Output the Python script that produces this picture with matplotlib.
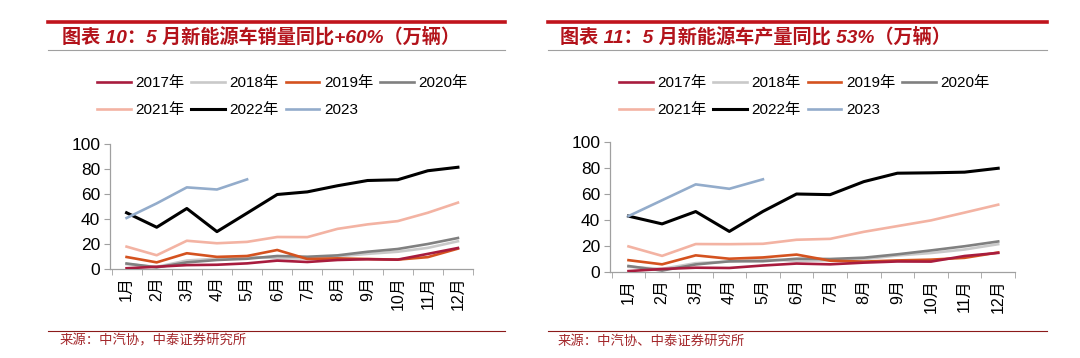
import matplotlib.pyplot as plt
from matplotlib.lines import Line2D

plt.rcParams['font.family'] = ['Liberation Sans', 'Noto Sans CJK SC']

months = ['1月', '2月', '3月', '4月', '5月', '6月', '7月', '8月', '9月', '10月', '11月', '12月']
years = ['2017年', '2018年', '2019年', '2020年', '2021年', '2022年', '2023']
colors = ['#A81C3E', '#C9C9C9', '#D4521F', '#808080', '#F3B3A3', '#000000', '#93ACCB']

# sales (万辆)
sales_2017 = [0.6, 1.8, 3.1, 3.4, 4.5, 6.7, 5.6, 7.2, 7.8, 7.5, 12.1, 16.8]
sales_2018 = [3.9, 1.7, 6.8, 8.2, 10.2, 8.4, 8.4, 10.1, 12.1, 13.8, 16.9, 22.2]
sales_2019 = [9.6, 5.3, 12.6, 9.7, 10.4, 15.2, 8.0, 8.5, 8.0, 7.5, 9.5, 16.3]
sales_2020 = [4.4, 1.3, 5.3, 7.2, 8.2, 10.4, 9.8, 10.9, 13.8, 16.0, 20.0, 24.8]
sales_2021 = [17.9, 11.0, 22.6, 20.6, 21.7, 25.6, 25.5, 32.1, 35.7, 38.3, 45.0, 53.1]
sales_2022 = [45.0, 33.4, 48.4, 29.9, 44.7, 59.6, 61.7, 66.6, 70.8, 71.4, 78.6, 81.4]
sales_2023 = [40.8, 52.5, 65.3, 63.6, 71.7]

# production (万辆)
prod_2017 = [0.7, 2.3, 3.3, 3.1, 5.0, 6.5, 5.9, 7.2, 8.1, 8.0, 12.3, 14.7]
prod_2018 = [4.0, 2.4, 6.8, 8.1, 9.7, 8.6, 9.0, 9.9, 12.7, 14.6, 17.3, 21.4]
prod_2019 = [9.1, 5.9, 12.8, 10.2, 11.2, 13.4, 8.7, 8.0, 8.9, 9.5, 10.9, 15.0]
prod_2020 = [4.6, 1.1, 5.8, 8.2, 8.3, 10.2, 10.0, 11.0, 13.6, 16.6, 19.8, 23.5]
prod_2021 = [19.7, 12.4, 21.5, 21.4, 21.7, 24.8, 25.5, 30.9, 35.3, 39.7, 45.7, 51.8]
prod_2022 = [43.0, 37.0, 46.5, 31.2, 46.6, 60.0, 59.5, 69.5, 76.0, 76.3, 76.8, 79.8]
prod_2023 = [43.0, 55.2, 67.4, 64.0, 71.3]

sales = [sales_2017, sales_2018, sales_2019, sales_2020, sales_2021, sales_2022, sales_2023]
prod = [prod_2017, prod_2018, prod_2019, prod_2020, prod_2021, prod_2022, prod_2023]

title_red = '#B3131B'
W, H = 1080, 358
fig = plt.figure(figsize=(W / 100, H / 100), dpi=100)


def px(x, y):
    return x / W, 1 - y / H


def panel(rect, data, title, source, x0, x1, leg_x, tx, sx):
    # decoration lines
    fig.add_artist(Line2D([x0 / W, x1 / W], [1 - 22 / H] * 2, color='#C0141C', lw=2.6))
    fig.add_artist(Line2D([x0 / W, x1 / W], [1 - 50 / H] * 2, color='#A0A0A0', lw=0.8))
    fig.add_artist(Line2D([x0 / W, x1 / W], [1 - 331 / H] * 2, color='#8B1A1A', lw=0.8))
    fig.text(*px(tx, 37), title, color=title_red, fontsize=13.8, fontweight='bold',
             style='italic', va='center', ha='left')
    fig.text(*px(sx, 341), source, color='#A3262A', fontsize=9.6, va='center', ha='left')

    ax = fig.add_axes(rect)
    x = list(range(1, 13))
    zorders = [5, 2, 4, 3, 2.5, 6, 7]
    handles = []
    for vals, lab, c, z in zip(data, years, colors, zorders):
        lw = 2.2 if lab == '2022年' else 1.9
        h, = ax.plot(x[:len(vals)], vals, color=c, lw=lw, zorder=z, label=lab,
                     solid_joinstyle='round')
        handles.append(h)
    ax.set_ylim(0, 100)
    ax.set_xlim(0.45, 12.45)
    ax.set_yticks([0, 20, 40, 60, 80, 100])
    ax.set_xticks(x)
    ax.set_xticklabels(months, rotation=90, fontsize=11.5)
    ax.set_xticks([i + 0.5 for i in range(0, 13)], minor=True)
    ax.tick_params(axis='x', which='major', length=0, pad=5)
    ax.tick_params(axis='x', which='minor', length=4, color='#A0A0A0', direction='out')
    ax.tick_params(axis='y', length=4, color='#A0A0A0', labelsize=12.5, pad=3)
    for s in ['top', 'right']:
        ax.spines[s].set_visible(False)
    for s in ['left', 'bottom']:
        ax.spines[s].set_color('#A0A0A0')
        ax.spines[s].set_linewidth(0.9)
    # legend is filled column-wise; reorder so it reads row by row
    order = [0, 4, 1, 5, 2, 6, 3]
    fig.legend(handles=[handles[i] for i in order], loc='upper left',
               bbox_to_anchor=px(leg_x, 76), ncol=4, frameon=False, fontsize=11,
               handlelength=2.2, handletextpad=0.3, columnspacing=0.45,
               labelspacing=0.85, borderpad=0, borderaxespad=0)
    return ax


panel([110 / W, (H - 269) / H, 363 / W, 125 / H], sales,
      '图表 10：5 月新能源车销量同比+60%（万辆）', '来源：中汽协，中泰证券研究所',
      48, 505, 97, 62, 60)
panel([610 / W, (H - 272) / H, 405 / W, 130 / H], prod,
      '图表 11：5 月新能源车产量同比 53%（万辆）', '来源：中汽协、中泰证券研究所',
      548, 1047, 619, 560, 558)

fig.savefig('out.png', dpi=100)
